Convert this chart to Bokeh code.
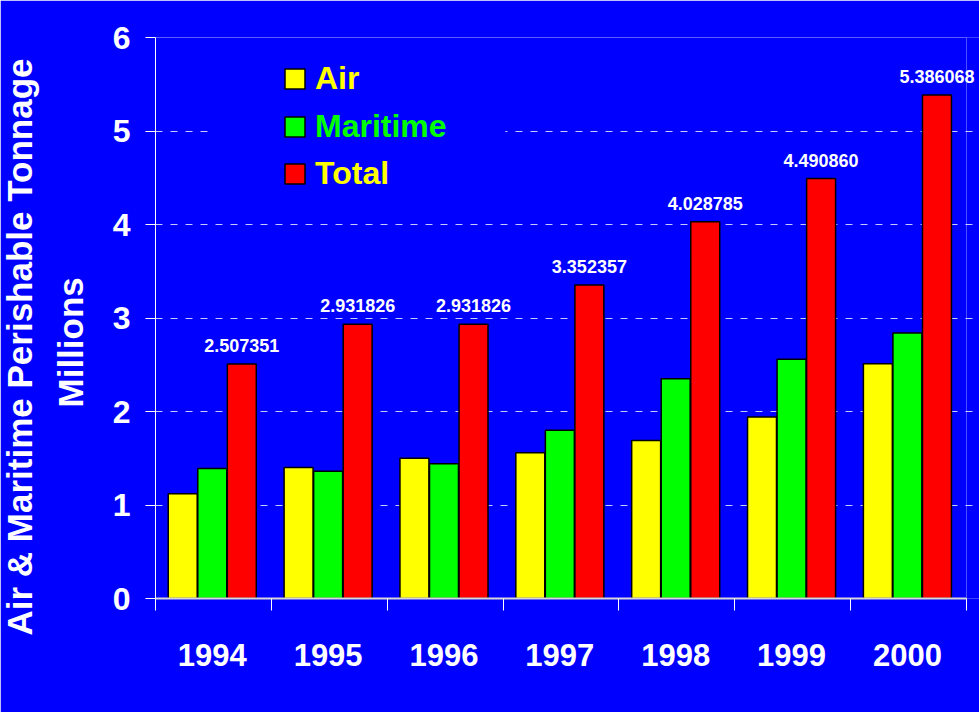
from bokeh.plotting import figure
from bokeh.models import (ColumnDataSource, FixedTicker, Legend, LegendItem,
                          BoxAnnotation, LabelSet, Title)
from bokeh.core.properties import value
from bokeh.transform import dodge
from bokeh.embed import file_html
from bokeh.resources import INLINE

years = ["1994", "1995", "1996", "1997", "1998", "1999", "2000"]
air = [1.12, 1.40, 1.50, 1.56, 1.69, 1.94, 2.51]
maritime = [1.39, 1.36, 1.44, 1.80, 2.35, 2.56, 2.84]
total = [2.507351, 2.931826, 2.931826, 3.352357, 4.028785, 4.490860, 5.386068]
total_labels = ["2.507351", "2.931826", "2.931826", "3.352357",
                "4.028785", "4.490860", "5.386068"]
y_ticks = [0, 1, 2, 3, 4, 5, 6]
y_title = "Air & Maritime Perishable Tonnage"
y_subtitle = "Millions"

BLUE = "#0000FF"
W, H = 979, 712
n = len(years)
xc = [i + 0.49 for i in range(n)]
src = ColumnDataSource(dict(x=xc, air=air, maritime=maritime, total=total,
                            lab=total_labels))

# frame runs to the canvas edge so the last value label is not clipped;
# the visible plot box (0..n) is drawn with a BoxAnnotation
x_end = n * (W - 155) / 811.0

p = figure(width=W, height=H, output_backend="svg", toolbar_location=None,
           x_range=(0, x_end), y_range=(0, 6),
           background_fill_color=BLUE, border_fill_color=BLUE,
           min_border_left=155, min_border_right=0, min_border_top=37,
           min_border_bottom=114)
p.outline_line_color = None

bw = 0.25
r_air = p.vbar(x=dodge("x", -0.255, range=p.x_range), top="air", width=bw,
               source=src, fill_color="#FFFF00", line_color="black", line_width=1.5)
r_mar = p.vbar(x=dodge("x", 0.0, range=p.x_range), top="maritime", width=bw,
               source=src, fill_color="#00FF00", line_color="black", line_width=1.5)
r_tot = p.vbar(x=dodge("x", 0.255, range=p.x_range), top="total", width=bw,
               source=src, fill_color="#FF0000", line_color="black", line_width=1.5)

labels = LabelSet(x=dodge("x", 0.255, range=p.x_range), y="total", text="lab",
                  source=src, text_color="white",
                  text_font=value("Liberation Sans"),
                  text_font_style="bold", text_font_size="18px",
                  text_align="center", text_baseline="bottom", y_offset=12)
p.add_layout(labels)

# grid
p.xgrid.grid_line_color = None
p.ygrid.ticker = FixedTicker(ticks=[1, 2, 3, 4, 5])
p.ygrid.grid_line_color = "#c8c8ff"
p.ygrid.grid_line_dash = "7 8"
p.ygrid.grid_line_width = 1

# plot box outline (top and right edges)
p.add_layout(BoxAnnotation(left=0, right=n, bottom=0, top=6, fill_alpha=0,
                           line_color="white", line_width=1, level="underlay"))

# y axis
p.yaxis.ticker = FixedTicker(ticks=y_ticks)
p.yaxis.axis_line_color = "white"
p.yaxis.major_tick_line_color = "white"
p.yaxis.major_tick_out = 10
p.yaxis.major_tick_in = 0
p.yaxis.minor_tick_line_color = None
p.yaxis.major_label_text_color = "white"
p.yaxis.major_label_text_font = "Liberation Sans"
p.yaxis.major_label_text_font_style = "bold"
p.yaxis.major_label_text_font_size = "32px"
p.yaxis.major_label_standoff = 15

# y axis title, two lines
for txt, so, off in [(y_subtitle, 40, 191), (y_title, -21, -37)]:
    p.add_layout(Title(text=txt, align="left", offset=off, standoff=so,
                       text_color="white", text_font="Liberation Sans",
                       text_font_style="bold", text_font_size="35px"), "left")

# x axis
p.xaxis.ticker = FixedTicker(ticks=xc, minor_ticks=list(range(n + 1)))
p.xaxis.major_label_overrides = {x: y for x, y in zip(xc, years)}
p.xaxis.bounds = (0, n)
p.xaxis.axis_line_color = "#d8d8d8"
p.xaxis.axis_line_width = 2
p.xaxis.major_tick_line_color = None
p.xaxis.major_tick_out = 0
p.xaxis.major_tick_in = 0
p.xaxis.minor_tick_line_color = "white"
p.xaxis.minor_tick_out = 12
p.xaxis.minor_tick_in = 0
p.xaxis.major_label_text_color = "white"
p.xaxis.major_label_text_font = "Liberation Sans"
p.xaxis.major_label_text_font_style = "bold"
p.xaxis.major_label_text_font_size = "31px"
p.xaxis.major_label_standoff = 33

# gap in gridline behind legend
p.add_layout(BoxAnnotation(left=0.475, right=3.02, bottom=4.9, top=5.1,
                           fill_color=BLUE, fill_alpha=1.0, line_color=None))

legend_specs = [("Air", r_air, "#FFFF00", 501),
                ("Maritime", r_mar, "#00FF00", 453),
                ("Total", r_tot, "#FFFF00", 406)]
for name, rend, col, ypos in legend_specs:
    lg = Legend(items=[LegendItem(label=name, renderers=[rend])],
                location=(127, ypos), background_fill_alpha=0,
                border_line_color=None, padding=0, margin=0,
                glyph_width=25, glyph_height=25, label_standoff=8,
                label_text_color=col, label_text_font="Liberation Sans",
                label_text_font_style="bold", label_text_font_size="32px",
                label_height=20)
    p.add_layout(lg)

html = file_html(p, INLINE)
html = html.replace("<body>", '<body style="background:#0000FF;">', 1)
open("out.html", "w").write(html)
